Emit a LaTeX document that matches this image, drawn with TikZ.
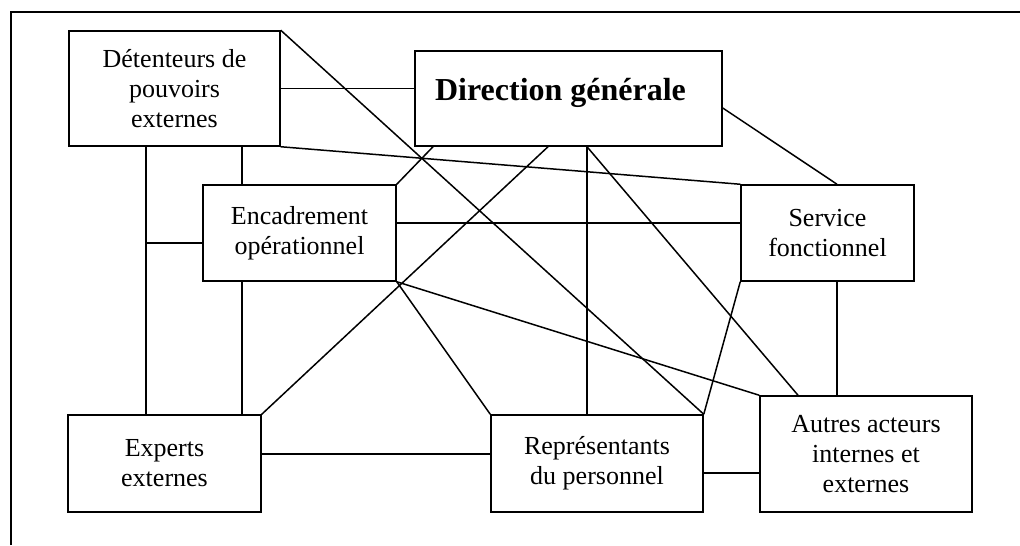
\documentclass[tikz,border=0pt]{standalone}
\usepackage{fontspec}
\setmainfont{Liberation Serif}
\begin{document}
\begin{tikzpicture}[x=0.5pt,y=-0.5pt,line width=0.75pt]
\tikzset{acteur/.style={draw, align=center, inner sep=0pt, font=\fontsize{13}{15}\selectfont}}
\useasboundingbox (0,0) rectangle (1020,545);
\draw (11,545) -- (11,12) -- (1020,12);
\node[acteur, minimum width=105.5pt, minimum height=57.5pt] (det) at (174.5,88.5) {Détenteurs de\\pouvoirs\\externes};
\node[acteur, minimum width=153.5pt, minimum height=47.5pt, font=\fontsize{16}{19}\selectfont\bfseries,
      text height=12pt, text depth=10pt] (dir) at (568.5,98.5) {Direction générale\hspace*{8pt}};
\node[acteur, minimum width=96.5pt, minimum height=48pt] (enc) at (299.5,233) {Encadrement\\opérationnel};
\node[acteur, minimum width=86.5pt, minimum height=48pt] (svc) at (827.5,233) {Service\\fonctionnel};
\node[acteur, minimum width=96.5pt, minimum height=48.5pt] (exp) at (164.5,463.5) {Experts\\externes};
\node[acteur, minimum width=106pt, minimum height=48.5pt] (rep) at (597,463.5) {Représentants\\du personnel};
\node[acteur, minimum width=106pt, minimum height=58pt] (aut) at (866,454) {Autres acteurs\\internes et\\externes};
\coordinate (dgA) at (146,243);
\coordinate (dgB) at (242,0);
\coordinate (dirA) at (433,0);
\coordinate (dirB) at (548,0);
\coordinate (dirC) at (587,0);
\coordinate (autA) at (798,0);
\coordinate (svcA) at (837,108);
\coordinate (encA) at (0,223);
\coordinate (expA) at (0,454);
\coordinate (repA) at (0,473);
\draw (det.east) -- (det.east -| dir.west);
\draw (det.north east) -- (rep.north east);
\draw (det.south east) -- (svc.north west);
\draw (dgA |- det.south) -- (dgA |- exp.north);
\draw (dgA) -- (dgA -| enc.west);
\draw (dgB |- det.south) -- (dgB |- enc.north);
\draw (dgB |- enc.south) -- (dgB |- exp.north);
\draw (dirA |- dir.south) -- (enc.north east);
\draw (dirB |- dir.south) -- (exp.north east);
\draw (dirC |- dir.south) -- (dirC |- rep.north);
\draw (dirC |- dir.south) -- (autA |- aut.north);
\draw (svcA -| dir.east) -- (svcA |- svc.north);
\draw (encA -| enc.east) -- (encA -| svc.west);
\draw (enc.south east) -- (rep.north west);
\draw (enc.south east) -- (aut.north west);
\draw (expA -| exp.east) -- (expA -| rep.west);
\draw (svc.south west) -- (rep.north east);
\draw (svcA |- svc.south) -- (svcA |- aut.north);
\draw (repA -| rep.east) -- (repA -| aut.west);
\end{tikzpicture}
\end{document}
